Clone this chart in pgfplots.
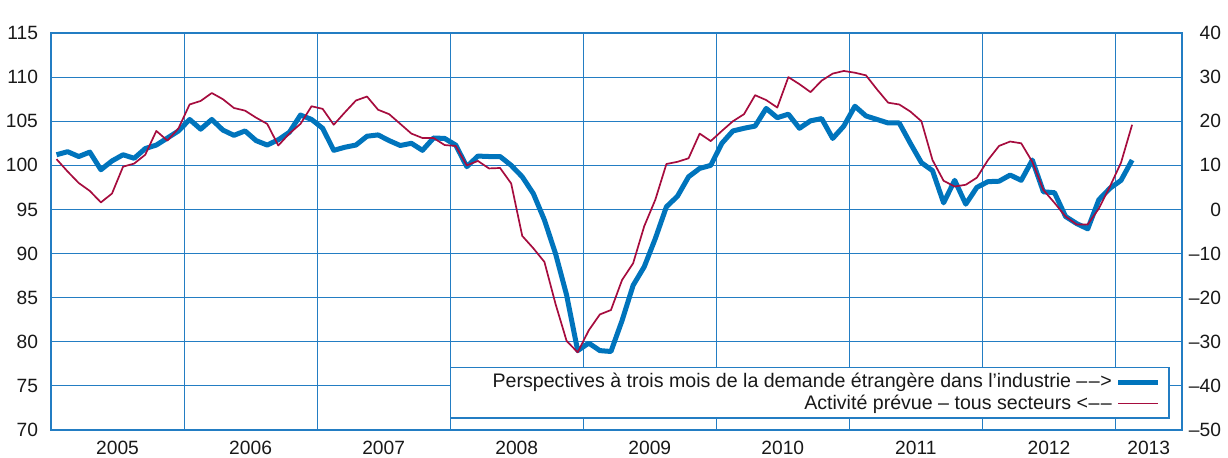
\documentclass[border=0pt]{standalone}
\usepackage{fontspec}
\setmainfont{Liberation Sans}
\usepackage{pgfplots}
\pgfplotsset{compat=1.18}
\usepackage{pgfplotstable}

\definecolor{lineblue}{RGB}{0,116,188}
\definecolor{gridblue}{RGB}{35,125,195}
\definecolor{linered}{RGB}{166,12,62}
\definecolor{txt}{RGB}{25,25,25}

% Perspectives a trois mois de la demande etrangere (solde d'opinion, axe droit)
\pgfplotstableread{
m v
0 12.4
1 13.1
2 12.0
3 13.0
4 9.0
5 11.0
6 12.4
7 11.6
8 13.8
9 14.6
10 16.2
11 17.8
12 20.4
13 18.2
14 20.4
15 18.0
16 16.8
17 17.8
18 15.6
19 14.6
20 15.8
21 17.5
22 21.4
23 20.4
24 18.4
25 13.4
26 14.1
27 14.6
28 16.6
29 16.9
30 15.6
31 14.5
32 15.0
33 13.4
34 16.2
35 16.1
36 14.6
37 9.7
38 12.1
39 12.0
40 12.0
41 10.0
42 7.4
43 3.6
44 -2.4
45 -10.0
46 -19.4
47 -32.0
48 -30.3
49 -32.0
50 -32.2
51 -25.2
52 -17.2
53 -13.0
54 -6.6
55 0.6
56 3.0
57 7.4
58 9.3
59 10.0
60 15.0
61 17.8
62 18.4
63 18.9
64 22.9
65 20.8
66 21.6
67 18.4
68 20.1
69 20.6
70 16.1
71 18.9
72 23.4
73 21.2
74 20.4
75 19.6
76 19.6
77 15.0
78 10.6
79 8.8
80 1.5
81 6.6
82 1.2
83 5.0
84 6.3
85 6.4
86 7.8
87 6.6
88 11.2
89 4.0
90 3.8
91 -1.6
92 -3.2
93 -4.4
94 2.2
95 4.8
96 6.6
97 11.2
}\bluedata

% Activite prevue - tous secteurs (en points, axe gauche)
\pgfplotstableread{
m v
0 100.7
1 99.3
2 98.0
3 97.1
4 95.8
5 96.8
6 99.85
7 100.2
8 101.2
9 103.9
10 102.8
11 104.2
12 106.9
13 107.3
14 108.2
15 107.5
16 106.5
17 106.2
18 105.4
19 104.7
20 102.25
21 103.6
22 104.7
23 106.7
24 106.4
25 104.6
26 106.0
27 107.35
28 107.8
29 106.3
30 105.8
31 104.7
32 103.6
33 103.1
34 103.1
35 102.3
36 102.2
37 100.0
38 100.5
39 99.65
40 99.7
41 97.95
42 92.0
43 90.6
44 89.05
45 84.3
46 80.1
47 78.8
48 81.3
49 83.1
50 83.6
51 87.0
52 88.9
53 93.1
54 96.1
55 100.15
56 100.4
57 100.8
58 103.6
59 102.75
60 103.9
61 105.0
62 105.8
63 107.95
64 107.4
65 106.55
66 110.0
67 109.2
68 108.3
69 109.6
70 110.4
71 110.7
72 110.5
73 110.2
74 108.6
75 107.1
76 106.9
77 106.1
78 105.0
79 100.6
80 98.25
81 97.6
82 97.8
83 98.6
84 100.6
85 102.2
86 102.7
87 102.5
88 100.4
89 97.2
90 95.75
91 94.2
92 93.3
93 93.3
94 95.1
95 97.6
96 100.3
97 104.6
}\reddata

\pgfplotsset{
  common/.style={
    width=565.5pt, height=198.5pt, scale only axis,
    at={(0,0)}, anchor=south west,
    xmin=-0.5, xmax=101.5,
    tick style={draw=none},
    tick label style={font=\fontsize{9.6}{11}\selectfont, text=txt},
    /pgf/number format/assume math mode=true,
  }
}

\begin{document}
\begin{tikzpicture}
% right axis: grid, blue series
\begin{axis}[common,
  ymin=-50, ymax=40,
  ytick={-50,-40,...,40},
  yticklabels={\textendash50,\textendash40,\textendash30,\textendash20,\textendash10,0,10,20,30,40},
  yticklabel pos=right,
  yticklabel style={anchor=east, xshift=23pt},
  ymajorgrids=true,
  grid style={gridblue, line width=0.55pt},
  xtick={5.5,17.5,29.5,41.5,53.5,65.5,77.5,89.5,98.5},
  xticklabels={2005,2006,2007,2008,2009,2010,2011,2012,2013},
  xticklabel style={yshift=-2pt},
  extra x ticks={11.5,23.5,35.5,47.5,59.5,71.5,83.5,95.5},
  extra x tick labels={},
  extra x tick style={grid=major},
  axis line style={draw=none},
]
\addplot[lineblue, line width=2.5pt, line join=round] table[x=m, y=v] {\bluedata};
\end{axis}
% left axis: frame, red series, legend
\begin{axis}[common,
  ymin=70, ymax=115,
  ytick={70,75,...,115},
  yticklabel style={xshift=-3pt},
  xtick=\empty,
  axis line style={gridblue, line width=1.2pt},
  legend style={at={(rel axis cs:0.989,0.028)}, anchor=south east,
    draw=gridblue, line width=0.7pt, font=\fontsize{9.8}{10.5}\selectfont, text=txt,
    inner xsep=4pt, inner ysep=1pt, row sep=-2pt},
  legend cell align=right,
  legend plot pos=right,
  legend image code/.code={\draw[#1] (0pt,0pt) -- (20pt,0pt);},
]
\addlegendimage{lineblue, line width=2.5pt}
\addlegendentry{\hspace*{15pt}Perspectives à trois mois de la demande étrangère dans l’industrie \textendash\kern0.7pt\textendash\kern0.3pt>}
\addplot[linered, line width=0.85pt, line join=round] table[x=m, y=v] {\reddata};
\addlegendentry{Activité prévue \textendash{} tous secteurs <\kern0.3pt\textendash\kern0.7pt\textendash}
\node[anchor=base west, font=\fontsize{9.6}{11}\selectfont, text=txt, inner sep=0pt] at (rel axis cs:0.001,1) [yshift=3pt] {en points};
\node[anchor=base east, font=\fontsize{9.6}{11}\selectfont, text=txt, inner sep=0pt] at (rel axis cs:0.961,1) [yshift=3pt] {solde d’opinion};
\end{axis}
\pgfresetboundingbox
\path[use as bounding box] (-25.5pt,-13.5pt) rectangle (588.5pt,215pt);
\end{tikzpicture}
\end{document}
